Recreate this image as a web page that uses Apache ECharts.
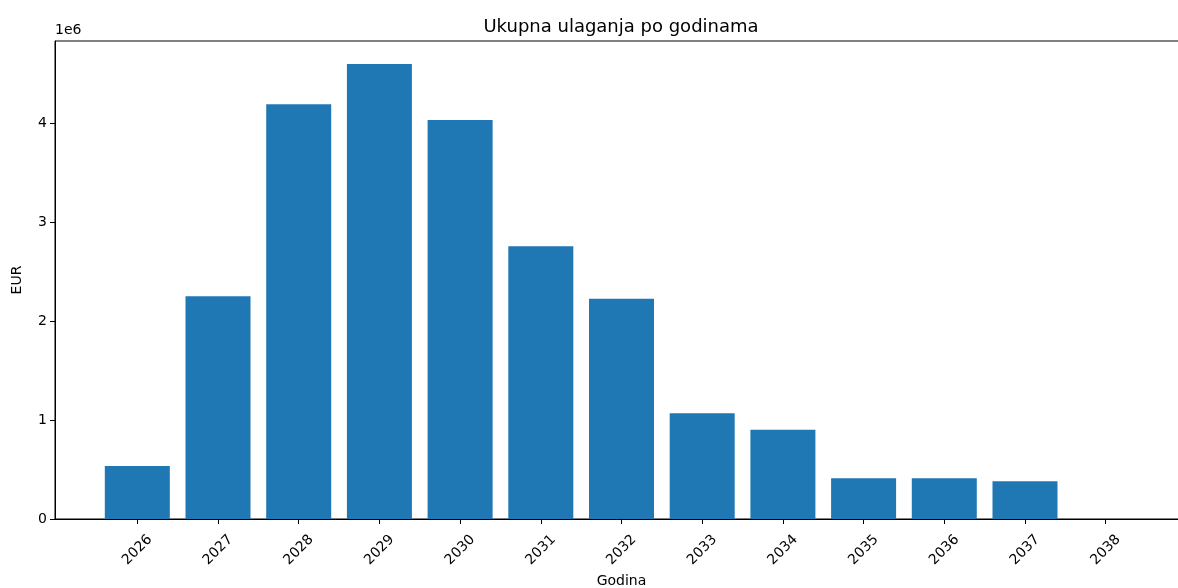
<!DOCTYPE html>
<html>
<head>
<meta charset="utf-8">
<script src="https://cdn.jsdelivr.net/npm/echarts@6/dist/echarts.min.js"></script>
<style>
  html, body { margin: 0; padding: 0; background: #fff; }
  #chart { width: 1178px; height: 588px; }
</style>
</head>
<body>
<div id="chart"></div>
<script>
// godine i ukupna ulaganja (EUR)
const years = [2026, 2027, 2028, 2029, 2030, 2031, 2032, 2033, 2034, 2035, 2036, 2037, 2038];
const values = [535000, 2250000, 4190000, 4596000, 4030000, 2755000, 2225000, 1068000, 902000, 411000, 411000, 381000, 0];
const yTicks = [0, 1000000, 2000000, 3000000, 4000000];

const font = "DejaVu Sans";
const chart = echarts.init(document.getElementById("chart"));

const option = {
  animation: false,
  title: {
    text: "Ukupna ulaganja po godinama",
    left: 621,
    textAlign: "center",
    top: 18,
    padding: 0,
    textStyle: { fontFamily: font, fontSize: 18, fontWeight: "normal", color: "#000" }
  },
  grid: {
    left: 55,
    right: -10,
    top: 41,
    bottom: 69,
    show: true,
    borderColor: "#000",
    borderWidth: 1,
    containLabel: false,
    outerBoundsMode: "none"
  },
  graphic: [
    {
      type: "text",
      left: 55,
      top: 23,
      style: { text: "1e6", font: "14px DejaVu Sans", fill: "#000" }
    }
  ],
  xAxis: {
    type: "value",
    min: 2024.98,
    max: 2039.02,
    name: "Godina",
    nameLocation: "middle",
    nameGap: 55,
    nameMoveOverlap: false,
    nameTextStyle: { fontFamily: font, fontSize: 14, color: "#000" },
    splitLine: { show: false },
    axisLine: { show: true, onZero: false, lineStyle: { color: "#000", width: 1 } },
    axisTick: { show: true, length: 5, customValues: years, lineStyle: { color: "#000" } },
    axisLabel: {
      customValues: years,
      rotate: 45,
      align: "center",
      verticalAlign: "middle",
      fontFamily: font,
      fontSize: 14,
      color: "#000",
      margin: 31,
      formatter: v => String(Math.round(v))
    }
  },
  yAxis: {
    type: "value",
    min: 0,
    max: 4828000,
    name: "EUR",
    nameLocation: "middle",
    nameGap: 31,
    nameMoveOverlap: false,
    nameTextStyle: { fontFamily: font, fontSize: 14, color: "#000" },
    splitLine: { show: false },
    axisLine: { show: true, lineStyle: { color: "#000", width: 1 } },
    axisTick: { show: true, length: 5, customValues: yTicks, lineStyle: { color: "#000" } },
    axisLabel: {
      customValues: yTicks,
      fontFamily: font,
      fontSize: 14,
      color: "#000",
      margin: 8,
      formatter: v => String(Math.round(v / 1e6))
    }
  },
  series: [
    {
      type: "bar",
      data: years.map((y, i) => [y, values[i]]),
      barWidth: 65,
      itemStyle: { color: "#1f77b4" }
    }
  ]
};

chart.setOption(option);
</script>
</body>
</html>
